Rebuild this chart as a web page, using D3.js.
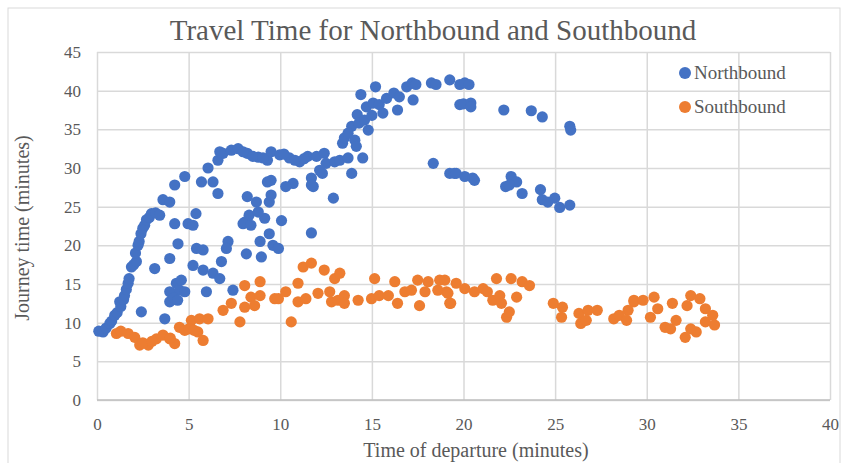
<!DOCTYPE html>
<html>
<head>
<meta charset="utf-8">
<script src="https://cdn.jsdelivr.net/npm/d3@7"></script>
<style>
  body { margin: 0; background: #fff; }
  svg { font-family: "Liberation Serif", "Times New Roman", serif; }
</style>
</head>
<body>
<svg width="843" height="463"></svg>
<script>
    // Northbound points (departure minute, journey minutes)
    var northX = [0.1, 0.33, 0.5, 0.7, 0.8, 0.97, 1.1, 1.24, 1.3, 1.45, 1.5, 1.6, 1.7, 1.75, 1.88, 2.0, 2.15, 2.1, 2.24, 2.3, 2.4, 2.5, 2.6, 2.7, 2.85, 2.97, 3.2, 3.42, 3.6, 3.97, 4.24, 4.79,
      4.24, 4.97, 5.4, 5.24, 4.42, 3.97, 3.15, 2.42, 3.7, 3.97, 4.33, 4.5, 3.97, 4.79, 4.2, 4.6, 4.4, 5.43, 5.79, 5.24, 5.79, 6.33, 6.7, 5.97, 6.79, 7.15, 7.06, 7.42,
      6.06, 5.7, 6.33, 6.6, 6.88, 6.6, 6.7, 7.33, 7.7, 8.2, 8.8, 9.3, 7.97, 8.5, 9.06, 9.5, 9.97, 10.5, 11.06, 11.5, 11.98, 12.4, 12.5, 12.97, 13.25, 13.7, 13.9, 12.3, 11.7, 11.8, 12.15, 12.9, 14.5, 10.2, 10.8, 11.3,
      8.2, 8.7, 8.3, 8.06, 9.3, 9.4, 9.15, 9.5, 9.5, 10.7, 10.3, 8.8, 7.97, 8.4, 10.07, 9.4, 11.7, 8.9, 9.6, 9.9, 8.15, 8.97, 11.7,
      13.4, 13.5, 13.9, 14.2, 14.3, 14.07, 14.15, 14.8, 14.4, 15.2, 14.7, 15.07, 15.4, 15.6, 15.8, 16.2, 16.5, 16.4, 16.9, 17.2, 17.4, 17.25, 18.25, 18.5, 19.25, 19.8, 19.8, 14.6, 15.0, 13.7,
      20.07, 20.3, 20.0, 20.4, 20.4, 22.2, 23.7, 24.3, 25.8, 25.85,
      18.35, 19.25, 19.5, 19.6, 20.07, 20.5, 20.6, 22.6, 22.9, 22.3, 22.5, 23.2, 24.2, 24.3, 24.6, 24.98, 25.25, 25.8];
    var northY = [8.9, 8.8, 9.3, 9.9, 10.2, 10.95, 11.3, 12.7, 12.1, 13.0, 13.5, 14.3, 15.1, 15.7, 17.2, 17.5, 17.9, 19.0, 20.0, 20.5, 21.5, 22.2, 22.6, 23.3, 23.6, 24.1, 24.2, 23.9, 25.9, 25.6, 27.8, 28.9,
      22.8, 22.8, 24.1, 22.6, 20.2, 18.3, 17.0, 11.4, 10.5, 14.0, 15.1, 14.2, 12.7, 14.0, 13.2, 15.5, 12.9, 19.6, 19.4, 17.4, 16.8, 16.4, 15.7, 14.0, 17.9, 20.5, 19.6, 14.2,
      30.0, 28.2, 28.2, 26.7, 31.9, 31.0, 32.1, 32.3, 32.5, 31.9, 31.4, 31.0, 32.1, 31.5, 31.3, 32.1, 31.7, 31.3, 30.8, 31.5, 31.5, 31.9, 30.6, 30.8, 31.0, 31.3, 29.3, 29.3, 28.7, 27.6, 29.7, 26.1, 31.3, 31.8, 31.0, 31.2,
      26.3, 25.6, 23.9, 23.0, 28.2, 25.6, 23.5, 28.4, 26.5, 28.0, 27.6, 24.3, 22.8, 22.6, 23.2, 21.5, 21.6, 20.5, 20.0, 19.6, 18.9, 18.5, 27.8,
      33.2, 33.9, 35.4, 36.9, 35.8, 33.6, 32.8, 34.9, 39.5, 40.5, 37.9, 38.4, 38.2, 37.1, 39.0, 39.7, 39.2, 37.5, 40.5, 41.0, 40.8, 38.8, 41.0, 40.8, 41.4, 40.8, 38.2, 36.2, 36.8, 34.5,
      41.0, 40.8, 38.3, 38.4, 37.9, 37.5, 37.4, 36.6, 35.4, 34.9,
      30.6, 29.3, 29.3, 29.3, 28.9, 28.7, 28.4, 28.9, 28.2, 27.6, 27.8, 26.7, 27.2, 25.9, 25.6, 26.1, 24.9, 25.2];

    // Southbound points
    var southX = [1.06, 1.7, 2.06, 2.33, 2.8, 3.24, 3.6, 3.97, 4.24, 4.5, 4.79, 5.15, 5.5, 5.79, 5.6, 6.06, 6.88, 7.33, 7.8, 8.06, 8.06, 8.4, 8.6, 8.9, 8.9, 9.7, 1.3, 2.5, 3.0, 4.0, 5.0, 5.3,
      9.9, 10.3, 10.6, 10.97, 10.97, 11.4, 11.25, 11.7, 12.06, 12.4, 12.7, 12.97, 13.25, 12.8, 13.15, 13.5, 13.5, 14.25, 14.98, 15.15, 15.4, 15.9, 16.25, 16.4, 16.8, 17.16, 17.5, 17.6, 17.9, 18.07, 18.6, 18.7, 19.25, 19.07,
      18.98, 19.6, 19.3, 19.15, 20.07, 20.6, 21.07, 21.3, 21.8, 21.6, 21.98, 22.07, 22.35, 22.5, 22.6, 23.2, 23.6, 22.9, 24.9, 25.4, 25.35, 26.3, 26.4, 26.8, 27.3, 26.7, 28.2, 28.5, 28.98, 28.9, 29.3,
      29.3, 29.8, 30.4, 30.6, 30.2, 31.0, 31.3, 31.6, 31.4, 32.4, 32.9, 32.2, 33.2, 33.6, 33.7, 33.2, 32.1, 32.7, 32.4];
    var southY = [8.6, 8.6, 8.1, 7.1, 7.1, 7.9, 8.4, 7.9, 7.3, 9.4, 9.0, 10.3, 8.8, 7.7, 10.5, 10.5, 11.6, 12.5, 10.1, 14.8, 12.0, 13.3, 12.2, 15.3, 13.5, 13.1, 8.9, 7.4, 7.6, 8.0, 9.2, 9.0,
      13.1, 14.0, 10.1, 15.1, 12.7, 13.1, 17.2, 17.7, 13.8, 16.8, 14.0, 15.7, 16.4, 12.7, 12.9, 13.5, 12.5, 12.9, 13.1, 15.7, 13.5, 13.5, 15.3, 12.5, 14.0, 14.2, 15.5, 12.2, 14.0, 15.3, 14.2, 15.5, 12.5, 14.0,
      15.5, 15.1, 12.5, 13.8, 14.4, 14.0, 14.4, 14.0, 15.7, 12.9, 13.5, 12.5, 10.7, 11.4, 15.7, 15.3, 14.8, 13.3, 12.5, 12.0, 10.7, 11.2, 9.9, 11.6, 11.6, 10.3, 10.5, 10.95, 11.6, 10.3, 12.7,
      12.9, 12.9, 13.3, 11.8, 10.7, 9.4, 9.2, 10.3, 12.5, 13.5, 13.1, 12.2, 11.8, 10.95, 9.7, 10.1, 8.1, 8.8, 9.2];

    var xTicks = [0, 5, 10, 15, 20, 25, 30, 35, 40];
    var yTicks = [0, 5, 10, 15, 20, 25, 30, 35, 40, 45];
    var seriesNames = ['Northbound', 'Southbound'];
    var seriesColors = ['#4472C4', '#ED7D31'];

    var width = 843;
    var height = 463;
    var margin = {
      top: 52,
      bottom: 63,
      left: 97,
      right: 13
    }

    var xScale = d3.scaleLinear()
      .domain([0, 40])
      .range([margin.left, width - margin.right])

    var yScale = d3.scaleLinear()
      .domain([0, 45])
      .range([height - margin.bottom, margin.top])

    var svg = d3.select('svg')

    // chart border
    svg.append('rect')
      .attr('x', 8).attr('y', 8)
      .attr('width', 832).attr('height', 470)
      .attr('fill', 'none')
      .attr('stroke', '#d9d9d9')

    var yAxis = d3.axisLeft(yScale)
      .tickValues(yTicks)
      .tickSize(-(width - margin.left - margin.right))
      .tickPadding(16)

    var xAxis = d3.axisBottom(xScale)
      .tickValues(xTicks)
      .tickSize(-(height - margin.top - margin.bottom))
      .tickPadding(18)

    var gy = svg.append('g')
      .attr('transform', 'translate(' + [margin.left, 0] + ')')
      .call(yAxis)

    var gx = svg.append('g')
      .attr('transform', 'translate(' + [0, height - margin.bottom] + ')')
      .call(xAxis)

    // style both axes like Excel gridlines
    svg.selectAll('.domain').remove()
    svg.selectAll('.tick line')
      .attr('stroke', '#d9d9d9')
      .attr('stroke-width', 1.5)
    svg.selectAll('.tick text')
      .attr('fill', '#595959')
      .style('font-family', '"Liberation Serif", serif')
      .style('font-size', '17px')

    // baseline of the plot
    svg.append('line')
      .attr('x1', margin.left).attr('x2', width - margin.right)
      .attr('y1', yScale(0)).attr('y2', yScale(0))
      .attr('stroke', '#bfbfbf')
      .attr('stroke-width', 1.5)

    var north = northX.map((d, i) => ({ x: d, y: northY[i] }))
    var south = southX.map((d, i) => ({ x: d, y: southY[i] }))

    svg.append('g').selectAll('circle')
      .data(north)
      .enter().append('circle')
      .attr('cx', d => xScale(d.x))
      .attr('cy', d => yScale(d.y))
      .attr('r', 5.6)
      .attr('fill', seriesColors[0])

    svg.append('g').selectAll('circle')
      .data(south)
      .enter().append('circle')
      .attr('cx', d => xScale(d.x))
      .attr('cy', d => yScale(d.y))
      .attr('r', 5.6)
      .attr('fill', seriesColors[1])

    // title and axis titles
    svg.append('text')
      .attr('x', 433)
      .attr('y', 40)
      .attr('text-anchor', 'middle')
      .attr('fill', '#595959')
      .style('font-size', '29px')
      .text('Travel Time for Northbound and Southbound')

    svg.append('text')
      .attr('x', 476)
      .attr('y', 457)
      .attr('text-anchor', 'middle')
      .attr('fill', '#595959')
      .style('font-size', '20px')
      .text('Time of departure (minutes)')

    svg.append('text')
      .attr('transform', 'translate(29,228) rotate(-90)')
      .attr('text-anchor', 'middle')
      .attr('fill', '#595959')
      .style('font-size', '20px')
      .text('Journey time (minutes)')

    // legend
    var legend = svg.append('g').selectAll('g')
      .data(seriesNames)
      .enter().append('g')
      .attr('transform', (d, i) => 'translate(' + [685, 73 + i * 34] + ')')

    legend.append('circle')
      .attr('r', 6)
      .attr('fill', (d, i) => seriesColors[i])

    legend.append('text')
      .attr('x', 9)
      .attr('y', 6)
      .attr('fill', '#595959')
      .style('font-size', '19px')
      .text(d => d)
</script>
</body>
</html>
